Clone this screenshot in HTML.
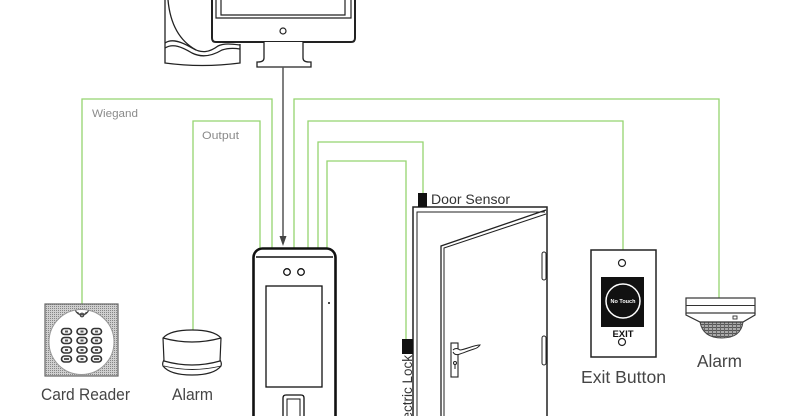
<!DOCTYPE html>
<html><head><meta charset="utf-8"><style>
html,body{margin:0;padding:0;background:#fff;}
svg{display:block;}
text{font-family:"Liberation Sans",sans-serif;}
</style></head><body>
<svg width="785" height="416" viewBox="0 0 785 416" xmlns="http://www.w3.org/2000/svg">
<defs>
<pattern id="mesh" width="2" height="2" patternUnits="userSpaceOnUse">
<rect width="2" height="2" fill="#cfcfcf"/><rect width="1" height="1" fill="#858585"/>
</pattern>
<pattern id="grill" width="4" height="3" patternUnits="userSpaceOnUse">
<rect width="4" height="3" fill="#aaa"/><rect width="4" height="1" fill="#555"/><rect width="1" height="3" fill="#666"/>
</pattern>
</defs>

<!-- green wires -->
<g fill="none" stroke="#95d46f" stroke-width="1.3">
<path d="M82,304 V99 H272 V248"/>
<path d="M193,330 V121 H260 V248"/>
<path d="M294,248 V99 H719 V298"/>
<path d="M308,248 V121 H623 V250"/>
<path d="M318,248 V142 H423 V193"/>
<path d="M327,248 V161 H406 V339"/>
</g>

<!-- tower PC -->
<g fill="none" stroke="#222" stroke-width="1.3">
<path d="M165,0 V63 Q202,68 240,63 V44"/>
<path d="M168,0 C170,22 178,40 196,50"/>
<path d="M165,43 C172,38 182,42 192,48 C202,54 210,52 218,46 C224,43 232,44 240,45"/>
<path d="M165,48 C173,43 182,47 192,53 C202,58 212,56 222,50 C228,48 234,48 240,49"/>
</g>

<!-- monitor -->
<g fill="#fff" stroke="#222">
<path d="M212,-5 V38 Q212,42 216,42 H351 Q355,42 355,38 V-5" stroke-width="2"/>
<path d="M216,-5 V18 H351 V-5" stroke-width="1.2" fill="none"/>
<path d="M221,-5 V15 H345 V-5" stroke-width="1.2" fill="none"/>
<circle cx="283" cy="31" r="3" stroke-width="1.2"/>
<path d="M264,42 V58 Q264,62 258,62 H257 V67 H311 V62 H309 Q303,62 303,58 V42" stroke-width="1.3"/>
</g>

<!-- arrow -->
<line x1="283" y1="67" x2="283" y2="238" stroke="#555" stroke-width="1.5"/>
<polygon points="279.5,236 286.5,236 283,246" fill="#444"/>

<!-- device -->
<g fill="none" stroke="#111">
<rect x="253.5" y="248.5" width="82" height="185" rx="9" stroke-width="2.6" fill="#fff"/>
<line x1="256" y1="257" x2="333" y2="257" stroke-width="1.5"/>
<circle cx="287" cy="272" r="3.3" stroke-width="1.3"/>
<circle cx="301" cy="272" r="3.3" stroke-width="1.3"/>
<rect x="266" y="286" width="56" height="101" stroke-width="1.3"/>
<path d="M283,420 V398 Q283,395 286,395 H301 Q304,395 304,398 V420" stroke-width="1.3"/>
<rect x="287" y="399" width="13" height="25" stroke-width="1"/>
</g>
<circle cx="329" cy="303" r="1" fill="#111"/>

<!-- card reader -->
<rect x="45" y="304" width="73" height="72" fill="url(#mesh)" stroke="#666" stroke-width="1.2"/>
<circle cx="81.5" cy="342" r="32.5" fill="#fff" stroke="#999" stroke-width="1"/>
<g fill="none" stroke="#444" stroke-width="1.2">
<circle cx="82" cy="315" r="1.8"/>
<path d="M77.5,312 A5,5 0 0 0 86.5,312"/>
<path d="M75.5,310.5 A7,7 0 0 0 88.5,310.5"/>
</g>
<g fill="#f4f4f4" stroke="#333" stroke-width="1.6">
<rect x="61.5" y="328.5" width="10" height="6" rx="3"/><rect x="77" y="328.5" width="10" height="6" rx="3"/><rect x="91.5" y="328.5" width="10" height="6" rx="3"/>
<rect x="61.5" y="337.5" width="10" height="6" rx="3"/><rect x="77" y="337.5" width="10" height="6" rx="3"/><rect x="91.5" y="337.5" width="10" height="6" rx="3"/>
<rect x="61.5" y="347" width="10" height="6" rx="3"/><rect x="77" y="347" width="10" height="6" rx="3"/><rect x="91.5" y="347" width="10" height="6" rx="3"/>
<rect x="61.5" y="356" width="10" height="6" rx="3"/><rect x="77" y="356" width="10" height="6" rx="3"/><rect x="91.5" y="356" width="10" height="6" rx="3"/>
</g>
<g fill="#555">
<rect x="65" y="330.5" width="3" height="2"/><rect x="80.5" y="330.5" width="3" height="2"/><rect x="95" y="330.5" width="3" height="2"/>
<rect x="65" y="339.5" width="3" height="2"/><rect x="80.5" y="339.5" width="3" height="2"/><rect x="95" y="339.5" width="3" height="2"/>
<rect x="65" y="349" width="3" height="2"/><rect x="80.5" y="349" width="3" height="2"/><rect x="95" y="349" width="3" height="2"/>
<rect x="64" y="358" width="5" height="2"/><rect x="80.5" y="358" width="3" height="2"/><rect x="94" y="358" width="5" height="2"/>
</g>
<text x="41" y="400" font-size="17" fill="#454545" textLength="89" lengthAdjust="spacingAndGlyphs">Card Reader</text>

<!-- alarm left -->
<g fill="#fff" stroke="#222" stroke-width="1.2">
<path d="M163,338 Q170,330 192,330 Q214,330 221,338 L220,361 Q192,369 164,361 Z"/>
<path d="M163,338 Q192,346 221,338" fill="none"/>
<path d="M164,360 Q162,363 163,366 Q170,375 192,375 Q214,375 221,366 Q222,363 220,360" fill="none"/>
<path d="M164,366 Q192,373 221,366" fill="none" stroke-width="0.9"/>
</g>
<text x="172" y="400" font-size="17" fill="#454545" textLength="41" lengthAdjust="spacingAndGlyphs">Alarm</text>

<!-- labels on wires -->
<text x="92" y="117" font-size="11" fill="#8a8a8a" textLength="46" lengthAdjust="spacingAndGlyphs">Wiegand</text>
<text x="202" y="139" font-size="11" fill="#8a8a8a" textLength="37" lengthAdjust="spacingAndGlyphs">Output</text>

<!-- door -->
<g fill="none" stroke="#222">
<path d="M413,420 V207 H547 V420" stroke-width="1.5"/>
<path d="M417,420 V212 H545" stroke-width="1"/>
<path d="M441,420 V246 L546,210" stroke-width="1.3"/>
<path d="M444,420 V248 L546,214" stroke-width="1"/>
<rect x="542" y="252" width="4" height="28" rx="2" stroke-width="1"/>
<rect x="542" y="336" width="4" height="29" rx="2" stroke-width="1"/>
<rect x="451" y="343" width="7" height="34" stroke-width="1.1"/>
<path d="M453,350 Q456,347 460,350 C467,349 474,345 480,345 Q478,348 474,349 C468,351 463,353 460,354 Q455,356 453,352" stroke-width="1" fill="#fff"/>
<circle cx="455" cy="363" r="1.5" stroke-width="1"/>
<line x1="455" y1="364" x2="455" y2="369" stroke-width="1"/>
</g>
<rect x="418" y="193" width="9" height="14" fill="#111"/>
<text x="431" y="204" font-size="14" fill="#333" textLength="79" lengthAdjust="spacingAndGlyphs">Door Sensor</text>
<rect x="402" y="339" width="11" height="15" fill="#111"/>
<text x="412" y="355" font-size="13.5" fill="#333" text-anchor="end" transform="rotate(-90 412 355)">Electric Lock</text>

<!-- exit button -->
<rect x="591" y="250" width="65" height="107" fill="#fff" stroke="#222" stroke-width="1.5"/>
<circle cx="622" cy="263" r="3.5" fill="none" stroke="#222" stroke-width="1.2"/>
<rect x="601" y="277" width="43" height="50" fill="#111"/>
<circle cx="623" cy="301" r="17" fill="none" stroke="#fff" stroke-width="1.5"/>
<text x="623" y="303" font-size="5.5" fill="#fff" font-weight="bold" text-anchor="middle">No Touch</text>
<text x="623" y="337" font-size="9.5" fill="#111" font-weight="bold" text-anchor="middle">EXIT</text>
<circle cx="622" cy="342" r="3.5" fill="none" stroke="#222" stroke-width="1.2"/>
<text x="581" y="383" font-size="17.5" fill="#454545" textLength="85" lengthAdjust="spacingAndGlyphs">Exit Button</text>

<!-- smoke alarm right -->
<path d="M700,322 Q703,338 722,338 Q741,338 743,322 Z" fill="url(#grill)" stroke="#444" stroke-width="1"/>
<g fill="none" stroke="#333" stroke-width="1.2">
<rect x="686" y="298" width="69" height="15" fill="#fff"/>
<line x1="686" y1="305.5" x2="755" y2="305.5" stroke-width="1"/>
<path d="M686,313 V315 L700,322 H743 L755,315 V313"/>
<rect x="733" y="316" width="4" height="3" stroke-width="0.9"/>
</g>
<text x="697" y="367" font-size="17.5" fill="#454545" textLength="45" lengthAdjust="spacingAndGlyphs">Alarm</text>
</svg>
</body></html>
